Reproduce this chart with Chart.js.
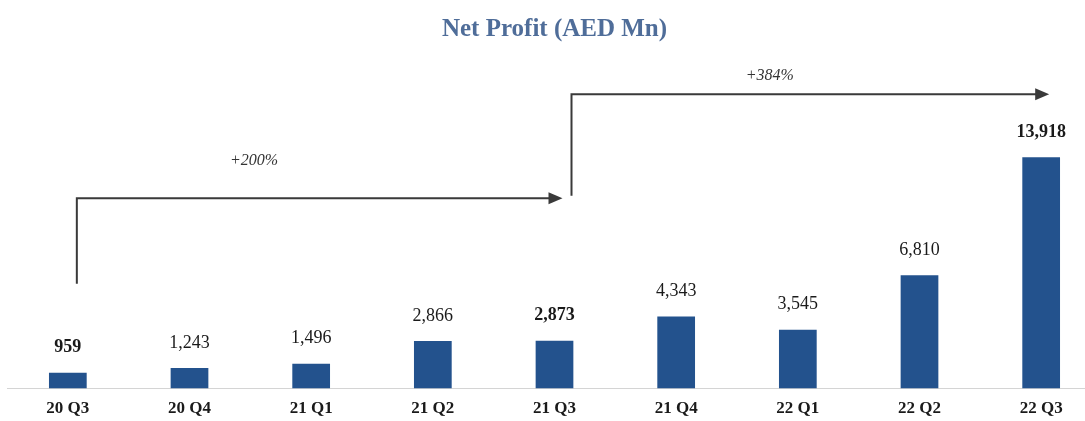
<!DOCTYPE html>
<html>
<head>
<meta charset="utf-8">
<script src="https://cdn.jsdelivr.net/npm/chart.js@4/dist/chart.umd.min.js"></script>
<style>
  html, body { margin: 0; padding: 0; background: #fff; overflow: hidden; }
  #wrap { width: 1085px; height: 421px; overflow: hidden; }
</style>
</head>
<body>
<div id="wrap"><canvas id="myChart" width="1102" height="429"></canvas></div>
<script>
// quarters and net profit (AED Mn)
const quarters = ['20 Q3', '20 Q4', '21 Q1', '21 Q2', '21 Q3', '21 Q4', '22 Q1', '22 Q2', '22 Q3'];
const profit = [959, 1243, 1496, 2866, 2873, 4343, 3545, 6810, 13918];
const boldLabels = [true, false, false, false, true, false, false, false, true];

// growth arrows: from bar index to bar index, start level and top level (in AED Mn)
const growthText = ['+200%', '+384%'];
const growthFrom = [0, 4];
const growthTo = [4, 8];
const growthStart = [6300, 11600];
const growthLevel = [11450, 17700];
const growthLabelLevel = [13700, 18800];

const valueLabels = {
    id: 'valueLabels',
    afterDatasetsDraw: (chart) => {
        const {ctx} = chart;
        const meta = chart.getDatasetMeta(0);
        ctx.save();
        ctx.fillStyle = '#1a1a1a';
        ctx.textAlign = 'center';
        ctx.textBaseline = 'middle';
        meta.data.forEach((bar, i) => {
            ctx.font = boldLabels[i] ? 'bold 18px "Liberation Serif", serif' : '18px "Liberation Serif", serif';
            ctx.fillText(profit[i].toLocaleString('en-US'), bar.x, bar.y - 25);
        });
        ctx.restore();
    }
};

const growthArrows = {
    id: 'growthArrows',
    afterDraw: (chart) => {
        const {ctx, scales: {x, y}} = chart;
        ctx.save();
        ctx.lineWidth = 2;
        growthText.forEach((txt, i) => {
            const x0 = x.getPixelForValue(growthFrom[i]) + (i === 0 ? 9 : 17);
            const x1 = x.getPixelForValue(growthTo[i]) + 8;
            const yStart = y.getPixelForValue(growthStart[i]);
            const yTop = y.getPixelForValue(growthLevel[i]);
            ctx.strokeStyle = '#3a3a3a';
            ctx.fillStyle = '#3a3a3a';
            ctx.beginPath();
            ctx.moveTo(x0, yStart);
            ctx.lineTo(x0, yTop);
            ctx.lineTo(x1 - 12, yTop);
            ctx.stroke();
            ctx.beginPath();
            ctx.moveTo(x1, yTop);
            ctx.lineTo(x1 - 14, yTop - 6);
            ctx.lineTo(x1 - 14, yTop + 6);
            ctx.closePath();
            ctx.fill();
            ctx.font = 'italic 16px "Liberation Serif", serif';
            ctx.textAlign = 'center';
            ctx.textBaseline = 'middle';
            ctx.fillStyle = '#333';
            const lx = x0 + (x1 - x0) * (i === 0 ? 0.365 : 0.415);
            ctx.fillText(txt, lx, y.getPixelForValue(growthLabelLevel[i]));
        });
        ctx.restore();
    }
};

const data = {
    labels: quarters,
    datasets: [{
        label: 'Net Profit',
        data: profit,
        backgroundColor: '#23528d',
        categoryPercentage: 1,
        barPercentage: 0.31
    }]
};

const config = {
    type: 'bar',
    data: data,
    options: {
        responsive: false,
        animation: false,
        layout: { padding: { left: 7, right: 0, top: 0, bottom: 0 } },
        plugins: {
            legend: { display: false },
            tooltip: { enabled: false },
            title: {
                display: true,
                text: 'Net Profit (AED Mn)',
                color: '#4f6d99',
                font: { family: '"Liberation Serif", serif', size: 25, weight: 'bold' },
                padding: { top: 15, bottom: 11 }
            }
        },
        scales: {
            x: {
                grid: { display: false, drawTicks: false },
                border: { display: true, color: '#d4d4d4', width: 1 },
                ticks: {
                    color: '#1a1a1a',
                    padding: 10,
                    font: { family: '"Liberation Serif", serif', size: 17, weight: 'bold' }
                }
            },
            y: {
                display: false,
                min: 0,
                max: 20000
            }
        }
    },
    plugins: [valueLabels, growthArrows]
};

const myChart = new Chart(document.getElementById('myChart'), config);
</script>
</body>
</html>
